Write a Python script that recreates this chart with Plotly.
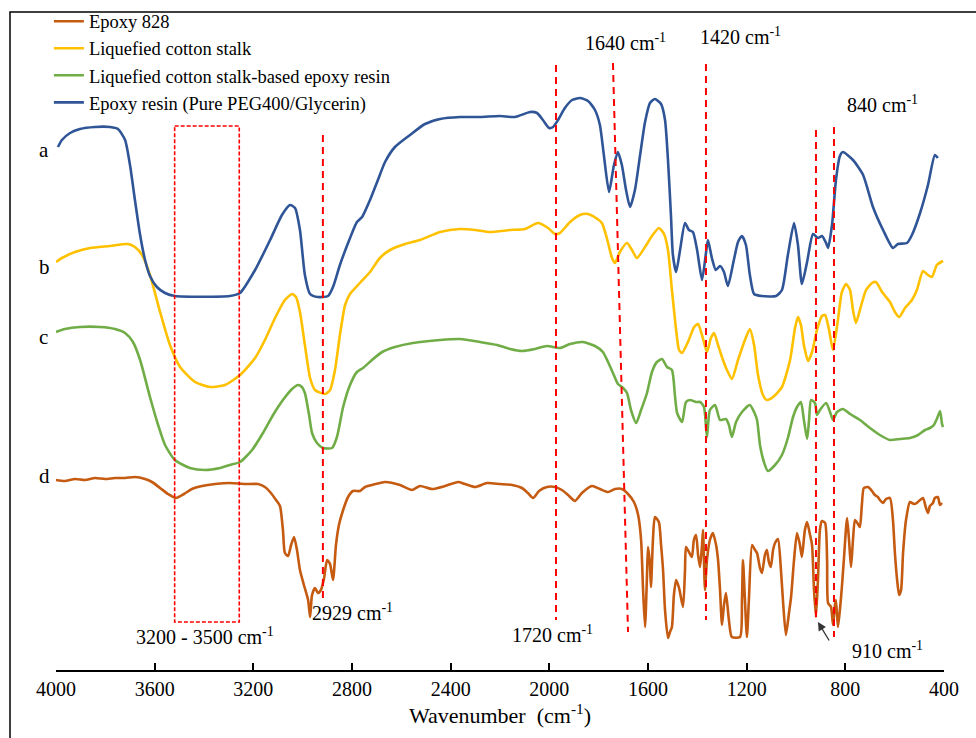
import plotly.graph_objects as go

# ---------------- data (wavenumber cm-1, offset transmittance read as vertical position, larger = lower) ----------------
wn_a = [3992,3976,3943,3903,3842,3781,3749,3720,3700,3680,3659,3639,3619,3591,3558,3518,3295,3254,3193,3132,
        3084,3051,3031,3011,2991,2970,2938,2897,2877,2849,2808,2780,2759,2727,2695,2666,2626,2565,2504,2443,
        2362,2281,2200,2139,2078,2050,2026,2001,1985,1965,1937,1908,1876,1843,1815,1795,1779,1758,1738,1722,
        1706,1689,1673,1653,1632,1612,1592,1572,1547,1531,1519,1507,1499,1486,1470,1450,1434,1418,1401,1381,
        1366,1357,1341,1325,1308,1292,1276,1252,1235,1219,1203,1187,1170,1138,1081,1057,1033,1008,992,976,
        955,931,911,895,878,870,854,838,822,810,769,728,688,647,607,587,550,530,497,465,437,425]
t_a = [147,140,133,129,127,127,129,140,165,200,235,260,276,287,293,296,296,293,270,240,
       215,205,208,230,275,294,297,296,287,265,238,222,217,200,180,162,147,135,124,119,
       117,117,116,117,112,113,120,128,127,120,108,100,98,101,110,125,155,192,165,152,
       165,190,207,190,155,122,103,99,104,120,160,215,255,272,250,223,230,232,250,280,
       255,240,258,270,266,272,286,260,242,236,245,275,294,296,296,290,255,223,245,284,
       262,234,238,236,243,248,225,180,156,152,160,175,207,230,248,244,243,235,213,185,155,158]

wn_b = [4000,3976,3923,3862,3781,3708,3680,3651,3619,3578,3538,3497,3436,3376,3315,3254,3193,3153,3112,3072,
        3043,3027,3011,2991,2970,2950,2909,2889,2869,2849,2828,2808,2768,2727,2687,2646,2585,2524,2443,2362,
        2301,2241,2159,2099,2046,2005,1977,1957,1916,1876,1843,1811,1787,1767,1746,1734,1714,1685,1665,1645,
        1612,1584,1556,1535,1519,1503,1486,1474,1462,1438,1413,1397,1381,1361,1345,1332,1316,1296,1280,1260,
        1235,1207,1187,1170,1154,1134,1118,1093,1057,1024,1004,992,980,968,951,935,915,895,882,866,
        850,830,814,797,781,769,757,741,716,692,676,651,619,599,582,558,530,510,485,465,449,429,404]
t_b = [262,258,252,248,246,244,247,255,275,312,345,367,382,387,385,375,358,340,318,300,
       294,297,312,345,378,390,394,390,370,335,305,294,283,272,258,250,244,240,232,229,
       230,232,230,229,223,228,234,233,222,215,214,218,223,238,258,263,252,243,250,258,
       247,236,228,234,250,290,330,350,353,342,327,324,335,352,338,333,345,360,370,379,
       360,340,329,345,375,395,400,397,387,360,328,317,325,345,361,352,330,316,315,330,
       350,320,292,284,290,310,323,310,290,283,282,292,302,312,317,308,300,290,271,275,277,265,261]

wn_c = [4000,3964,3903,3822,3761,3720,3688,3659,3619,3586,3558,3518,3457,3396,3335,3295,3254,3205,3161,3120,
        3080,3043,3019,3003,2991,2974,2962,2942,2918,2881,2861,2836,2808,2780,2755,2719,2678,2626,2553,2443,
        2362,2281,2212,2159,2111,2058,2010,1957,1916,1864,1815,1783,1762,1742,1722,1701,1685,1669,1648,1628,
        1604,1584,1564,1543,1523,1503,1491,1482,1462,1446,1430,1405,1389,1373,1361,1349,1328,1308,1284,1272,
        1260,1243,1219,1187,1170,1158,1146,1130,1114,1085,1057,1033,1012,996,980,968,955,947,939,923,
        915,903,878,862,850,834,810,781,741,700,660,619,578,538,505,477,457,441,429,416,408,404]
t_c = [332,329,327,327,329,333,342,360,397,425,445,460,468,470,468,465,462,450,433,415,
       400,389,385,387,393,415,433,443,448,448,437,407,385,372,368,360,352,347,343,340,
       339,342,345,349,351,349,346,348,344,342,346,352,362,373,384,388,393,410,423,410,
       393,372,362,359,367,370,395,413,422,402,400,402,402,407,437,410,405,420,419,425,
       437,422,412,405,412,420,445,462,471,465,455,438,417,407,402,420,439,420,400,403,
       415,410,403,412,420,412,409,414,420,428,435,440,439,438,435,430,428,425,419,411,424,427]

wn_d = [4000,3964,3923,3882,3842,3801,3761,3720,3680,3639,3611,3578,3546,3514,3481,3449,3408,3355,3295,3234,
        3181,3153,3132,3108,3092,3080,3072,3059,3047,3035,3023,3011,2995,2978,2970,2962,2950,2938,2926,2913,
        2901,2889,2877,2865,2853,2836,2816,2796,2768,2747,2719,2666,2605,2557,2524,2476,2423,2370,2342,2301,
        2253,2200,2151,2111,2087,2066,2042,2010,1977,1949,1924,1896,1868,1827,1795,1762,1734,1706,1681,1657,
        1640,1628,1620,1612,1604,1600,1592,1588,1580,1572,1556,1547,1539,1531,1519,1511,1503,1495,1486,1474,
        1458,1450,1446,1434,1422,1414,1405,1397,1389,1381,1377,1369,1361,1349,1337,1324,1316,1308,1300,1292,
        1284,1272,1260,1227,1219,1215,1207,1199,1191,1178,1166,1158,1146,1138,1126,1118,1110,1102,1093,1085,
        1073,1061,1053,1041,1028,1020,1008,996,984,976,964,955,943,935,927,919,911,903,895,882,
        874,870,858,850,842,838,830,822,814,806,793,785,777,769,761,749,741,733,725,708,
        692,680,668,660,647,635,619,607,599,590,582,574,566,554,538,522,510,497,485,473,
        465,457,445,437,425,416,408]
t_d = [480,481,479,480,478,479,478,478,477,479,482,488,494,498,494,489,486,484,483,484,
       484,487,492,500,506,530,553,556,545,537,550,570,585,600,617,595,588,593,590,578,
       560,564,580,545,525,510,497,491,491,487,485,482,485,490,486,489,486,482,484,487,
       483,484,485,488,493,498,491,487,487,490,495,501,493,486,489,492,489,489,494,502,
       515,540,590,627,575,547,565,587,540,517,522,545,570,610,638,632,627,595,580,588,
       607,570,547,552,557,540,535,555,567,545,530,590,560,540,533,545,560,590,625,605,
       593,620,637,637,600,560,600,637,600,545,550,553,568,573,555,550,562,567,550,543,
       539,570,600,635,612,597,560,533,545,557,530,522,535,545,590,617,580,530,521,523,
       560,603,607,625,605,600,627,610,587,560,518,540,567,540,520,524,527,505,488,487,
       491,495,497,500,503,499,498,520,553,580,595,590,553,520,502,504,503,500,498,508,
       513,506,503,498,497,505,503]

names = ["Epoxy 828", "Liquefied cotton stalk",
         "Liquefied cotton stalk-based epoxy resin", "Epoxy resin (Pure PEG400/Glycerin)"]
colors = ["#C55A11", "#FFC000", "#70AD47", "#2F5597"]
series = [(wn_d, t_d), (wn_b, t_b), (wn_c, t_c), (wn_a, t_a)]

tick_vals = [4000, 3600, 3200, 2800, 2400, 2000, 1600, 1200, 800, 400]
curve_labels = ["a", "b", "c", "d"]
curve_label_pos = [150, 267, 337, 476]

# reference lines: (x_top, y_top, x_bottom, y_bottom)
ref_lines = [(2918, 135, 2918, 600), (1973, 65, 1973, 620), (1742, 63, 1681, 632),
             (1365, 64, 1365, 620), (919, 130, 919, 617), (846, 127, 846, 637)]
box = (3519, 126, 3257, 622)

peak_notes = [("1640 cm<sup>-1</sup>", 1692, 42), ("1420 cm<sup>-1</sup>", 1227, 36),
              ("840 cm<sup>-1</sup>", 651, 104), ("3200 - 3500 cm<sup>-1</sup>", 3396, 636),
              ("2929 cm<sup>-1</sup>", 2800, 612), ("1720 cm<sup>-1</sup>", 1989, 634),
              ("910 cm<sup>-1</sup>", 631, 650)]

SERIF = "Liberation Serif, Times New Roman, serif"

fig = go.Figure()
for (x, y), n, c in zip(series, names, colors):
    fig.add_trace(go.Scatter(x=x, y=y, mode="lines", name=n,
                             line=dict(color=c, width=2.6, shape="spline", smoothing=0.6)))

shapes = []
for x0, y0, x1, y1 in ref_lines:
    shapes.append(dict(type="line", xref="x", yref="y", x0=x0, y0=y0, x1=x1, y1=y1,
                       line=dict(color="#FF0000", width=2, dash="7px,5px")))
shapes.append(dict(type="rect", xref="x", yref="y", x0=box[0], y0=box[1], x1=box[2], y1=box[3],
                   line=dict(color="#FF0000", width=1.6, dash="4px,2px")))
# outer frame of the figure
shapes.append(dict(type="rect", xref="paper", yref="paper", x0=-0.0518, y0=-0.12, x1=1.1, y1=0.982,
                   line=dict(color="black", width=1.5), fillcolor="rgba(0,0,0,0)"))

annotations = []
for txt, x, y in peak_notes:
    annotations.append(dict(text=txt, x=x, y=y, xref="x", yref="y", showarrow=False,
                            font=dict(family=SERIF, size=20, color="black")))
for lab, y in zip(curve_labels, curve_label_pos):
    annotations.append(dict(text=lab, x=-0.0214, y=y, xref="paper", yref="y", showarrow=False,
                            font=dict(family=SERIF, size=21, color="black")))
annotations.append(dict(x=911, y=622, ax=862, ay=642, xref="x", yref="y", axref="x", ayref="y",
                        text="", showarrow=True, arrowhead=2, arrowsize=1.3, arrowwidth=1.3,
                        arrowcolor="#333333"))

fig.update_layout(
    width=976, height=738,
    margin=dict(l=56, r=32, t=0, b=68),
    paper_bgcolor="white", plot_bgcolor="white",
    shapes=shapes, annotations=annotations,
    showlegend=True,
    legend=dict(x=-0.008, y=0.996, xanchor="left", yanchor="top",
                font=dict(family=SERIF, size=18.5, color="black"),
                bgcolor="rgba(0,0,0,0)", tracegroupgap=0, itemwidth=30),
    xaxis=dict(range=[4000, 400], tickvals=tick_vals, ticktext=[str(v) for v in tick_vals],
               showline=True, linecolor="black", linewidth=1.5,
               ticks="inside", ticklen=7, tickwidth=1.5, tickcolor="black",
               showgrid=False, zeroline=False,
               tickfont=dict(family=SERIF, size=20, color="black"),
               title=dict(text="Wavenumber  (cm<sup>-1</sup>)", standoff=4,
                          font=dict(family=SERIF, size=22, color="black"))),
    yaxis=dict(range=[670, 0], visible=False, showgrid=False, zeroline=False),
)

fig.write_html("out.html")
